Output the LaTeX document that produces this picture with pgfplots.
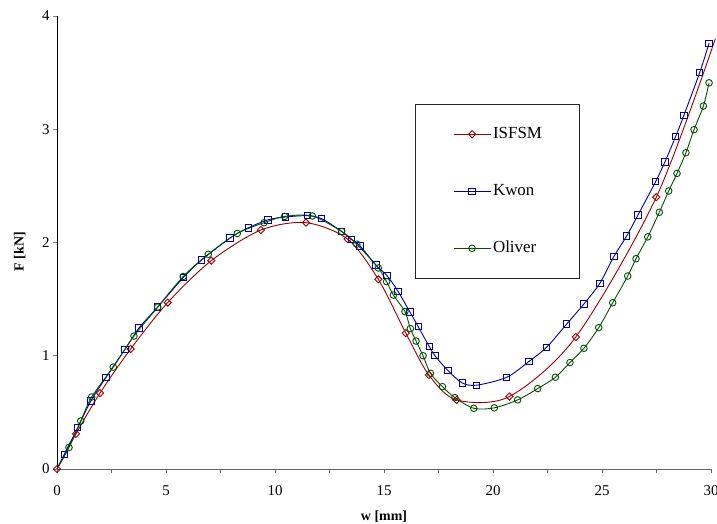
\documentclass[border=0pt]{standalone}
\usepackage{fontspec}
\setmainfont{Liberation Serif}
\usepackage{pgfplots}
\pgfplotsset{compat=1.18}
\definecolor{cisf}{RGB}{153,0,0}
\definecolor{ckwon}{RGB}{0,0,160}
\definecolor{coli}{RGB}{0,80,0}
\begin{document}
\begin{tikzpicture}
\begin{axis}[
  at={(0,0)}, anchor=south west,
  scale only axis, width=654bp, height=453bp,
  xmin=0, xmax=30, ymin=0, ymax=4,
  axis lines=left, axis line style={-, line width=0.8bp},
  x axis line style={draw=black!60},
  clip=false,
  xtick={0,5,...,30}, minor x tick num=1,
  ytick={0,1,2,3,4},
  tick align=outside, major tick length=4bp, minor tick length=4bp,
  tick style={line width=0.8bp},
  xtick style={black!60},
  /pgf/number format/assume math mode=true,
  ticklabel style={font=\fontsize{15}{18}\selectfont},
  xticklabel style={yshift=-9bp},
  xlabel={w [mm]}, ylabel={F [kN]},
  label style={font=\bfseries\fontsize{14}{16}\selectfont},
  xlabel style={at={(axis description cs:0.5,-0.104)}, anchor=center},
  ylabel style={at={(axis description cs:-0.057,0.48)}, anchor=center},
  legend cell align=left,
  legend image code/.code={\path (0bp,0bp); \draw[#1, mark indices={2}] plot coordinates {(3bp,0bp) (21.5bp,0bp) (40bp,0bp)};},
  legend style={at={(0.547,0.806)}, anchor=north west, draw=black!85, line width=0.8bp,
    font=\fontsize{17}{20}\selectfont, inner xsep=35bp, inner ysep=20bp, row sep=37bp,
    nodes={inner sep=2bp, text height=12bp, text depth=4bp}},
]
\addplot[cisf, line width=0.9bp, smooth, mark=square, mark size=2.55bp, mark options={rotate=45}, mark indices={1,...,16}] coordinates {
(0,0) (0.87,0.31) (1.97,0.67) (3.38,1.06) (5.08,1.47) (7.08,1.84) (9.35,2.11) (11.42,2.175)
(13.33,2.03) (14.74,1.675) (16.0,1.20) (17.06,0.83) (18.33,0.61) (20.75,0.64) (23.8,1.166)
(27.49,2.40) (30.2,3.8)};
\addlegendentry{ISFSM}
\addplot[ckwon, line width=0.9bp, smooth, mark=square, mark size=3.2bp, mark indices={2,...,44}] coordinates {
(0,0) (0.335,0.13) (0.95,0.365) (1.55,0.60) (2.25,0.81) (3.12,1.057) (3.76,1.245) (4.62,1.43)
(5.79,1.69) (6.63,1.845) (7.94,2.04) (8.78,2.13) (9.68,2.20) (10.47,2.225) (11.5,2.237)
(12.14,2.21) (13.04,2.10) (13.52,2.025) (13.9,1.97) (14.63,1.80) (15.14,1.707) (15.64,1.57)
(16.19,1.386) (16.57,1.257) (17.08,1.08) (17.34,1.0) (17.94,0.868) (18.59,0.76) (19.25,0.74)
(20.63,0.81) (21.65,0.95) (22.46,1.075) (23.38,1.28) (24.17,1.457) (24.9,1.64) (25.55,1.878)
(26.13,2.057) (26.65,2.243) (27.46,2.537) (27.89,2.713) (28.38,2.937) (28.75,3.12)
(29.48,3.50) (29.91,3.76)};
\addlegendentry{Kwon}
\addplot[coli, line width=0.9bp, smooth, mark=o, mark size=3.3bp, mark indices={2,...,44}] coordinates {
(0,0) (0.55,0.19) (1.09,0.424) (1.59,0.636) (2.58,0.90) (3.53,1.174) (4.62,1.43) (5.79,1.70)
(6.94,1.896) (8.27,2.08) (9.5,2.175) (10.44,2.23) (11.71,2.234) (13.06,2.097) (13.75,1.985)
(14.74,1.775) (15.12,1.654) (15.43,1.536) (15.96,1.39) (16.21,1.24) (16.47,1.13) (16.79,1.0)
(17.13,0.845) (17.68,0.727) (18.25,0.63) (19.12,0.536) (20.06,0.54) (21.13,0.61) (22.05,0.71)
(22.86,0.81) (23.53,0.94) (24.17,1.066) (24.85,1.248) (25.49,1.468) (26.18,1.704) (26.56,1.857)
(27.1,2.05) (27.63,2.267) (28.06,2.455) (28.44,2.61) (28.85,2.793) (29.22,2.996) (29.65,3.205)
(29.91,3.41)};
\addlegendentry{Oliver}
\end{axis}
\pgfresetboundingbox
\useasboundingbox (-57bp,-55bp) rectangle (660bp,469bp);
\end{tikzpicture}
\end{document}
